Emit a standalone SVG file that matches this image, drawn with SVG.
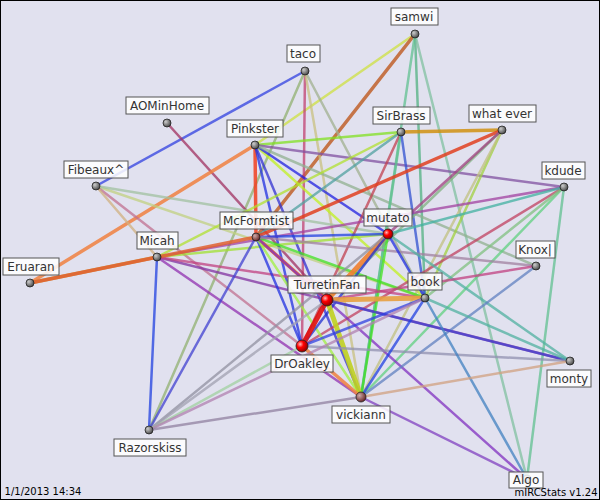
<svg xmlns="http://www.w3.org/2000/svg" width="600" height="500" viewBox="0 0 600 500">
<defs>
<radialGradient id="g" cx="0.35" cy="0.35" r="0.7"><stop offset="0" stop-color="#ccc"/><stop offset="1" stop-color="#444"/></radialGradient>
<radialGradient id="r" cx="0.35" cy="0.35" r="0.7"><stop offset="0" stop-color="#fbb"/><stop offset="0.4" stop-color="#f00"/><stop offset="1" stop-color="#800"/></radialGradient>
<radialGradient id="b" cx="0.35" cy="0.35" r="0.7"><stop offset="0" stop-color="#caa"/><stop offset="1" stop-color="#622"/></radialGradient>
</defs>
<style>
line{stroke-width:2.5;stroke-opacity:0.75;stroke-linecap:round}
.t{stroke-width:5;stroke-opacity:0.9}
.m{stroke-width:3.5;stroke-opacity:0.85}
.n circle{stroke:#222;stroke-width:0.8}
.n rect{fill:#fff;fill-opacity:0.85;stroke:#555;stroke-width:1}
.n text,.f{font-family:"DejaVu Sans",sans-serif;font-size:12px;fill:#333;text-anchor:middle}
.f{font-size:10px;fill:#000}
</style>
<rect x="0.5" y="0.5" width="599" height="499" fill="#e1e1ef" stroke="#000"/>
<g id="connectors">
<line x1="415" y1="34" x2="255" y2="145" stroke="#cde040"/>
<line x1="415" y1="34" x2="256" y2="237" stroke="#c0602a" class="m"/>
<line x1="415" y1="34" x2="425" y2="298" stroke="#50b080"/>
<line x1="415" y1="34" x2="361" y2="397" stroke="#60c090"/>
<line x1="415" y1="34" x2="527" y2="479" stroke="#80c0a0"/>
<line x1="305" y1="71" x2="96" y2="186" stroke="#3040e0"/>
<line x1="305" y1="71" x2="302" y2="346" stroke="#c04070"/>
<line x1="305" y1="71" x2="361" y2="397" stroke="#c8c080"/>
<line x1="305" y1="71" x2="425" y2="298" stroke="#a0b090"/>
<line x1="305" y1="71" x2="149" y2="430" stroke="#90b070"/>
<line x1="167" y1="123" x2="327" y2="300" stroke="#a03060"/>
<line x1="255" y1="145" x2="256" y2="237" stroke="#f04020" class="m"/>
<line x1="255" y1="145" x2="401" y2="132" stroke="#80e020"/>
<line x1="255" y1="145" x2="564" y2="187" stroke="#8050a0"/>
<line x1="255" y1="145" x2="425" y2="298" stroke="#c0f020"/>
<line x1="255" y1="145" x2="388" y2="234" stroke="#2020e0"/>
<line x1="255" y1="145" x2="302" y2="346" stroke="#2030e0"/>
<line x1="255" y1="145" x2="30" y2="283" stroke="#f08040" class="m"/>
<line x1="255" y1="145" x2="361" y2="397" stroke="#3030d0"/>
<line x1="255" y1="145" x2="536" y2="266" stroke="#90b090"/>
<line x1="96" y1="186" x2="425" y2="298" stroke="#c0d080"/>
<line x1="96" y1="186" x2="302" y2="346" stroke="#c07090"/>
<line x1="96" y1="186" x2="388" y2="234" stroke="#a0c0a0"/>
<line x1="96" y1="186" x2="157" y2="257" stroke="#d0b080"/>
<line x1="401" y1="132" x2="502" y2="130" stroke="#d09010" class="m"/>
<line x1="401" y1="132" x2="157" y2="257" stroke="#b0e030"/>
<line x1="401" y1="132" x2="302" y2="346" stroke="#c04050"/>
<line x1="401" y1="132" x2="361" y2="397" stroke="#60c090"/>
<line x1="401" y1="132" x2="425" y2="298" stroke="#3050d0"/>
<line x1="401" y1="132" x2="256" y2="237" stroke="#50a0a0"/>
<line x1="502" y1="130" x2="256" y2="237" stroke="#e04020" class="m"/>
<line x1="502" y1="130" x2="425" y2="298" stroke="#a0d040"/>
<line x1="502" y1="130" x2="361" y2="397" stroke="#c0c080"/>
<line x1="502" y1="130" x2="327" y2="300" stroke="#80b080"/>
<line x1="502" y1="130" x2="388" y2="234" stroke="#a04080"/>
<line x1="564" y1="187" x2="157" y2="257" stroke="#a040a0"/>
<line x1="564" y1="187" x2="361" y2="397" stroke="#60d080"/>
<line x1="564" y1="187" x2="302" y2="346" stroke="#c04060"/>
<line x1="564" y1="187" x2="425" y2="298" stroke="#80c080"/>
<line x1="564" y1="187" x2="527" y2="479" stroke="#60c090"/>
<line x1="564" y1="187" x2="388" y2="234" stroke="#40b0a0"/>
<line x1="157" y1="257" x2="149" y2="430" stroke="#2040e0"/>
<line x1="157" y1="257" x2="388" y2="234" stroke="#a0e030"/>
<line x1="157" y1="257" x2="570" y2="361" stroke="#8030a0"/>
<line x1="157" y1="257" x2="425" y2="298" stroke="#c04080"/>
<line x1="157" y1="257" x2="361" y2="397" stroke="#9030b0"/>
<line x1="157" y1="257" x2="30" y2="283" stroke="#d09030" class="m"/>
<line x1="30" y1="283" x2="256" y2="237" stroke="#e06030" class="m"/>
<line x1="256" y1="237" x2="327" y2="300" stroke="#f06020" class="m"/>
<line x1="256" y1="237" x2="425" y2="298" stroke="#40e020"/>
<line x1="256" y1="237" x2="302" y2="346" stroke="#2030e0"/>
<line x1="256" y1="237" x2="388" y2="234" stroke="#2040e0"/>
<line x1="256" y1="237" x2="361" y2="397" stroke="#a0f040"/>
<line x1="256" y1="237" x2="536" y2="266" stroke="#a080a0"/>
<line x1="256" y1="237" x2="527" y2="479" stroke="#8030c0"/>
<line x1="256" y1="237" x2="149" y2="430" stroke="#4040d0"/>
<line x1="388" y1="234" x2="327" y2="300" stroke="#f08030" class="t"/>
<line x1="388" y1="234" x2="361" y2="397" stroke="#40e020"/>
<line x1="388" y1="234" x2="302" y2="346" stroke="#2030d0"/>
<line x1="388" y1="234" x2="425" y2="298" stroke="#2030e0"/>
<line x1="388" y1="234" x2="149" y2="430" stroke="#9090a0"/>
<line x1="388" y1="234" x2="570" y2="361" stroke="#50b0a0"/>
<line x1="536" y1="266" x2="327" y2="300" stroke="#c04080"/>
<line x1="536" y1="266" x2="361" y2="397" stroke="#6080c0"/>
<line x1="327" y1="300" x2="302" y2="346" stroke="#e01010" class="t"/>
<line x1="327" y1="300" x2="425" y2="298" stroke="#e8a040" class="t"/>
<line x1="327" y1="300" x2="361" y2="397" stroke="#c0d020" class="t"/>
<line x1="327" y1="300" x2="149" y2="430" stroke="#a0a0b0"/>
<line x1="327" y1="300" x2="570" y2="361" stroke="#4040d0"/>
<line x1="302" y1="346" x2="361" y2="397" stroke="#f08040" class="m"/>
<line x1="302" y1="346" x2="425" y2="298" stroke="#3040e0"/>
<line x1="302" y1="346" x2="570" y2="361" stroke="#9090b0"/>
<line x1="302" y1="346" x2="149" y2="430" stroke="#a0d0a0"/>
<line x1="425" y1="298" x2="361" y2="397" stroke="#2040e0"/>
<line x1="425" y1="298" x2="570" y2="361" stroke="#50b0a0"/>
<line x1="425" y1="298" x2="527" y2="479" stroke="#4080c0"/>
<line x1="425" y1="298" x2="149" y2="430" stroke="#b080b0"/>
<line x1="361" y1="397" x2="570" y2="361" stroke="#d0a080"/>
<line x1="361" y1="397" x2="149" y2="430" stroke="#9080a0"/>
<line x1="361" y1="397" x2="527" y2="479" stroke="#8040c0"/>
</g>
<g class="n" id="samwi"><circle cx="415" cy="34" r="4" fill="url(#g)"/><rect x="391" y="8" width="47" height="17"/><text x="414" y="21">samwi</text></g>
<g class="n" id="taco"><circle cx="305" cy="71" r="4" fill="url(#g)"/><rect x="287" y="45" width="33" height="17"/><text x="303" y="58">taco</text></g>
<g class="n" id="AOMinHome"><circle cx="167" cy="123" r="4" fill="url(#g)"/><rect x="126" y="97" width="83" height="17"/><text x="167" y="110">AOMinHome</text></g>
<g class="n" id="SirBrass"><circle cx="401" cy="132" r="4" fill="url(#g)"/><rect x="373" y="107" width="57" height="17"/><text x="401" y="120">SirBrass</text></g>
<g class="n" id="whatever"><circle cx="502" cy="130" r="4" fill="url(#g)"/><rect x="469" y="105" width="67" height="17"/><text x="502" y="118">what ever</text></g>
<g class="n" id="Pinkster"><circle cx="255" cy="145" r="4" fill="url(#g)"/><rect x="227" y="120" width="56" height="17"/><text x="255" y="133">Pinkster</text></g>
<g class="n" id="Fibeaux"><circle cx="96" cy="186" r="4" fill="url(#g)"/><rect x="64" y="161" width="64" height="17"/><text x="96" y="174">Fibeaux^</text></g>
<g class="n" id="kdude"><circle cx="564" cy="187" r="4" fill="url(#g)"/><rect x="542" y="162" width="43" height="17"/><text x="563" y="175">kdude</text></g>
<g class="n" id="McFormtist"><circle cx="256" cy="237" r="4" fill="url(#b)"/><rect x="220" y="212" width="73" height="17"/><text x="256" y="225">McFormtist</text></g>
<g class="n" id="mutato"><circle cx="388" cy="234" r="5" fill="url(#r)"/><rect x="364" y="209" width="48" height="17"/><text x="388" y="222">mutato</text></g>
<g class="n" id="Micah"><circle cx="157" cy="257" r="4" fill="url(#g)"/><rect x="137" y="232" width="41" height="17"/><text x="157" y="245">Micah</text></g>
<g class="n" id="Knox"><circle cx="536" cy="266" r="4" fill="url(#g)"/><rect x="516" y="241" width="39" height="17"/><text x="535" y="254">Knox|</text></g>
<g class="n" id="Eruaran"><circle cx="30" cy="283" r="4" fill="url(#g)"/><rect x="3" y="258" width="56" height="17"/><text x="31" y="271">Eruaran</text></g>
<g class="n" id="TurretinFan"><circle cx="327" cy="300" r="6" fill="url(#r)"/><rect x="288" y="276" width="78" height="17"/><text x="327" y="289">TurretinFan</text></g>
<g class="n" id="book"><circle cx="425" cy="298" r="4" fill="url(#g)"/><rect x="408" y="273" width="34" height="17"/><text x="425" y="286">book</text></g>
<g class="n" id="DrOakley"><circle cx="302" cy="346" r="6" fill="url(#r)"/><rect x="271" y="355" width="62" height="17"/><text x="302" y="368">DrOakley</text></g>
<g class="n" id="monty"><circle cx="570" cy="361" r="4" fill="url(#g)"/><rect x="547" y="370" width="44" height="17"/><text x="569" y="383">monty</text></g>
<g class="n" id="vickiann"><circle cx="361" cy="397" r="5" fill="url(#b)"/><rect x="332" y="406" width="58" height="17"/><text x="361" y="419">vickiann</text></g>
<g class="n" id="Razorskiss"><circle cx="149" cy="430" r="4" fill="url(#g)"/><rect x="114" y="439" width="72" height="17"/><text x="150" y="452">Razorskiss</text></g>
<g class="n" id="Algo"><circle cx="527" cy="479" r="4" fill="url(#g)"/><rect x="509" y="472" width="34" height="16"/><text x="526" y="484">Algo</text></g>
<text class="f" x="43" y="495">1/1/2013 14:34</text>
<text class="f" x="556" y="496">mIRCStats v1.24</text>
</svg>
